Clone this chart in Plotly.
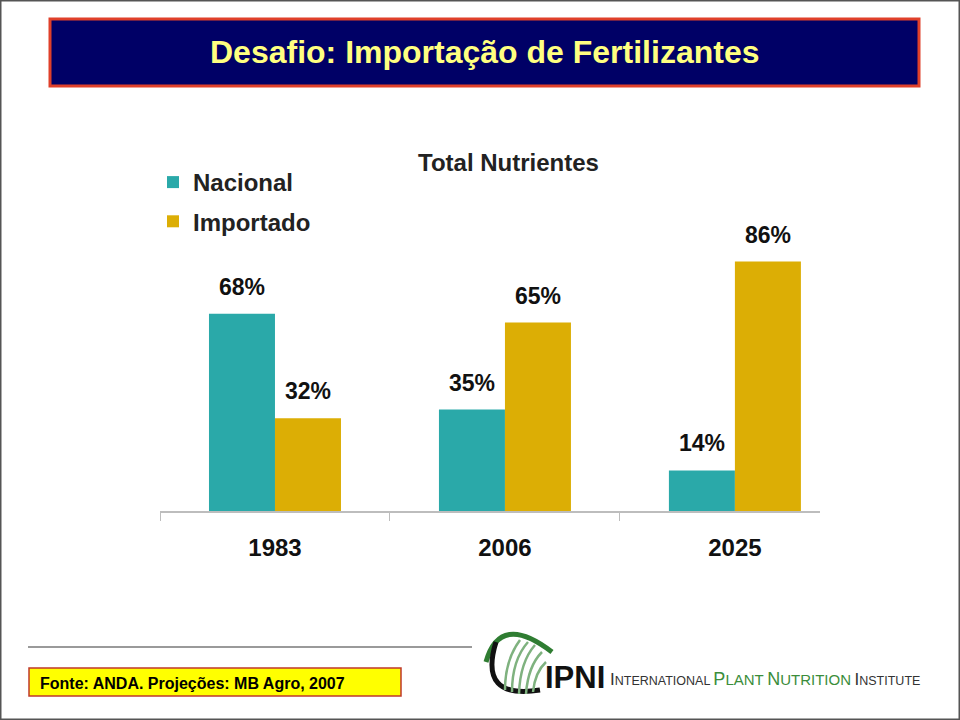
import plotly.graph_objects as go

# ---- data ----
anos = ["1983", "2006", "2025"]
nacional = [68, 35, 14]
importado = [32, 65, 86]
serie_nomes = ["Nacional", "Importado"]
titulo = "Desafio: Importação de Fertilizantes"
subtitulo = "Total Nutrientes"
fonte = "Fonte: ANDA. Projeções: MB Agro, 2007"

W, H = 960, 720
def px(x):
    return x / W
def py(y):
    return 1 - y / H

TEAL = "#2aa9a9"
GOLD = "#dcae05"
ARIAL = "Arial, Liberation Sans, sans-serif"

fig = go.Figure()
fig.add_trace(go.Bar(x=anos, y=nacional, name=serie_nomes[0], legendgroup="n",
                     marker=dict(color=TEAL, line=dict(width=0))))
fig.add_trace(go.Bar(x=anos, y=importado, name=serie_nomes[1], legendgroup="i",
                     marker=dict(color=GOLD, line=dict(width=0))))

# value labels
bw = 0.287 / 2
for i, a in enumerate(anos):
    for off, vals in ((-bw, nacional), (bw, importado)):
        fig.add_annotation(x=i + off, y=vals[i], xref="x", yref="y",
                           text=f"<b>{vals[i]}%</b>", showarrow=False,
                           xanchor="center", yanchor="middle", yshift=27,
                           font=dict(family=ARIAL, size=23, color="#111"))

shapes = []
# outer frame
shapes.append(dict(type="rect", xref="paper", yref="paper", x0=0, x1=1, y0=0, y1=1,
                   line=dict(color="#555", width=3), fillcolor="rgba(0,0,0,0)"))
# title banner
shapes.append(dict(type="rect", xref="paper", yref="paper",
                   x0=px(50), x1=px(919), y0=py(86), y1=py(19),
                   line=dict(color="#e0402a", width=3), fillcolor="#000066", layer="below"))
# bottom separator
shapes.append(dict(type="line", xref="paper", yref="paper",
                   x0=px(28), x1=px(472), y0=py(647), y1=py(647),
                   line=dict(color="#9a9a9a", width=2)))
# source box
shapes.append(dict(type="rect", xref="paper", yref="paper",
                   x0=px(29), x1=px(401), y0=py(696), y1=py(668),
                   line=dict(color="#c0392b", width=1.5), fillcolor="#ffff00", layer="below"))

# logo swoosh (decoration)
def path(pts, cmd):
    return cmd.format(*[v for p in pts for v in (px(p[0]), py(p[1]))])
shapes.append(dict(type="path", xref="paper", yref="paper",
                   path=path([(486, 662), (500, 612), (552, 652)], "M {},{} Q {},{} {},{}"),
                   line=dict(color="#2f7d32", width=5)))
shapes.append(dict(type="path", xref="paper", yref="paper",
                   path=path([(496, 642), (478, 700), (540, 690)], "M {},{} Q {},{} {},{}"),
                   line=dict(color="#111", width=5)))
for (x0, y0, cx, cy, x1, y1) in [(505, 690, 505, 660, 520, 640), (512, 692, 512, 660, 528, 642),
                                  (519, 694, 520, 662, 535, 645), (526, 694, 528, 666, 542, 652),
                                  (533, 692, 535, 672, 546, 662)]:
    shapes.append(dict(type="path", xref="paper", yref="paper",
                       path=path([(x0, y0), (cx, cy), (x1, y1)], "M {},{} Q {},{} {},{}"),
                       line=dict(color="#7fb27f", width=2.5)))

annotations_extra = [
    dict(x=px(484), y=py(52), text=f"<b>{titulo}</b>", font=dict(family=ARIAL, size=32, color="#ffff80")),
    dict(x=px(508), y=py(163), text=f"<b>{subtitulo}</b>", font=dict(family=ARIAL, size=24, color="#222")),
    dict(x=px(38), y=py(683), xanchor="left", text=f"<b>{fonte}</b>",
         font=dict(family=ARIAL, size=16, color="#000")),
    dict(x=px(543), y=py(677), xanchor="left", text="<b>IPNI</b>",
         font=dict(family=ARIAL, size=31, color="#111")),
    dict(x=px(608), y=py(679), xanchor="left",
         text=("<span style='font-size:17px'>I</span>NTERNATIONAL "
               "<span style='color:#3b8d3b'><span style='font-size:18px'>P</span>"
               "<span style='font-size:15px'>LANT</span> "
               "<span style='font-size:18px'>N</span>"
               "<span style='font-size:15px'>UTRITION</span></span> "
               "<span style='font-size:17px'>I</span>NSTITUTE"),
         font=dict(family=ARIAL, size=12.5, color="#333")),
]
for a in annotations_extra:
    a.update(xref="paper", yref="paper", showarrow=False, yanchor="middle")
    if "xanchor" not in a:
        a["xanchor"] = "center"
    fig.add_annotation(**a)

fig.update_layout(
    width=W, height=H, autosize=False,
    margin=dict(l=0, r=0, t=0, b=0),
    paper_bgcolor="white", plot_bgcolor="white",
    barmode="group", bargap=0.426, bargroupgap=0,
    shapes=shapes,
    showlegend=True,
    legend=dict(x=px(153), y=py(160), xanchor="left", yanchor="top",
                font=dict(family=ARIAL, size=24, color="#222", weight="bold"),
                itemwidth=30, tracegroupgap=5, bgcolor="rgba(0,0,0,0)"),
    xaxis=dict(domain=[px(160), px(820)], type="category", range=[-0.5, 2.37],
               showline=True, linecolor="#bdbdbd", linewidth=1.5,
               showgrid=False, ticks="outside", tickson="boundaries",
               ticklen=8, tickcolor="#bdbdbd", tickwidth=1,
               tickfont=dict(family=ARIAL, size=24, color="#111", weight="bold"),
               ticklabelstandoff=14),
    yaxis=dict(domain=[py(511), py(221)], range=[0, 100], visible=False),
)

fig.write_html("out.html", config={"displayModeBar": False},
               post_script="document.body.style.margin='0px';document.body.style.overflow='hidden';")
